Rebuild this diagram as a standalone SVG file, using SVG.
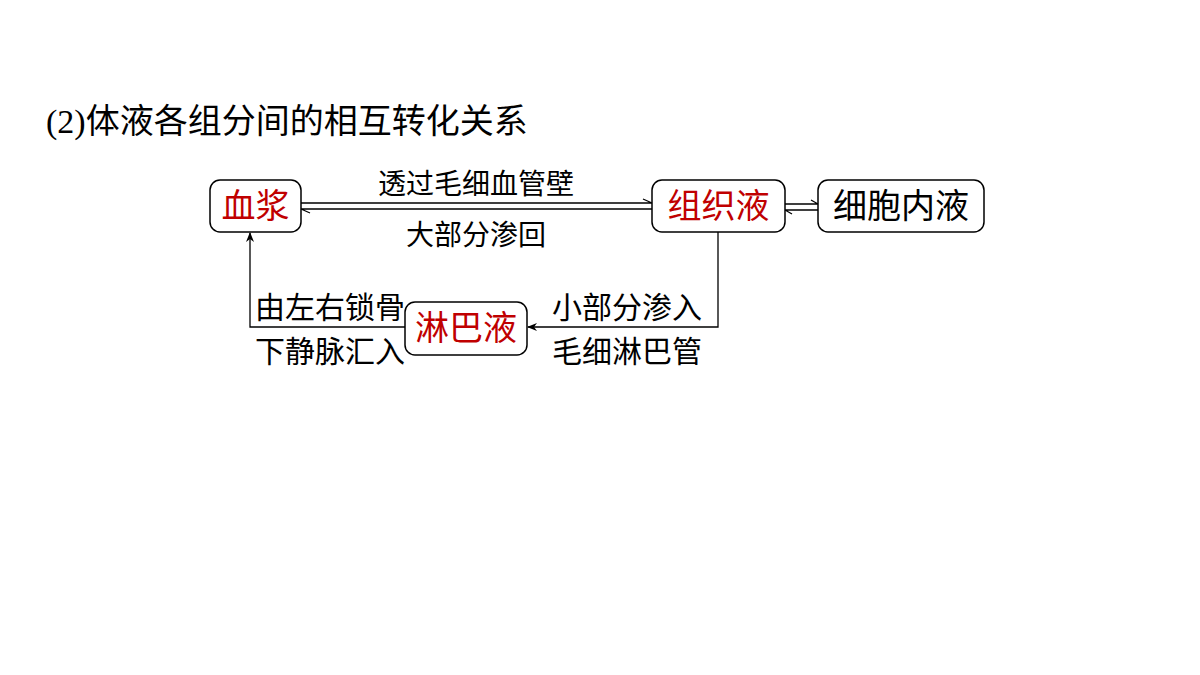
<svg xmlns="http://www.w3.org/2000/svg" width="1200" height="675" viewBox="0 0 1200 675">
<style>
.b{fill:#fff;stroke:#000;stroke-width:1.5}
.t{font-family:"Liberation Serif","Noto Sans CJK SC",serif;font-size:28px}
.r{fill:#c00000}
.l{fill:none;stroke:#000;stroke-width:1.3}
</style>
<defs><marker id="a" markerWidth="10" markerHeight="8" refX="9" refY="4" orient="auto" markerUnits="userSpaceOnUse"><path d="M0,0L10,4L0,8L3,4Z"/></marker></defs>
<rect width="1200" height="675" fill="#fff"/>
<text x="46" y="133" class="t" style="font-size:34px">(2)体液各组分间的相互转化关系</text>
<g id="conn">
<path class="l" d="M301,203H652M643,199L652,203"/>
<path class="l" d="M652,209H301M310,213L301,209"/>
<path class="l" d="M785,204H818M811,200L818,204"/>
<path class="l" d="M818,210H785M792,214L785,210"/>
<path class="l" d="M718,232V327H528" marker-end="url(#a)"/>
<path class="l" d="M405,327H250V233" marker-end="url(#a)"/>
<text class="t" x="476" y="194" text-anchor="middle">透过毛细血管壁</text>
<text class="t" x="476" y="245" text-anchor="middle">大部分渗回</text>
<text class="t" x="627" y="318" text-anchor="middle" style="font-size:30px">小部分渗入</text>
<text class="t" x="627" y="362" text-anchor="middle" style="font-size:30px">毛细淋巴管</text>
<text class="t" x="330" y="318" text-anchor="middle" style="font-size:30px">由左右锁骨</text>
<text class="t" x="330" y="362" text-anchor="middle" style="font-size:30px">下静脉汇入</text>
</g>
<g id="n1"><rect class="b" x="210" y="180" width="91" height="52" rx="10"/><text class="t r" x="255.5" y="218" text-anchor="middle" style="font-size:34px">血浆</text></g>
<g id="n2"><rect class="b" x="652" y="180" width="133" height="52" rx="10"/><text class="t r" x="718.5" y="218" text-anchor="middle" style="font-size:34px">组织液</text></g>
<g id="n3"><rect class="b" x="818" y="180" width="166" height="52" rx="10"/><text class="t" x="901" y="218" text-anchor="middle" style="font-size:34px">细胞内液</text></g>
<g id="n4"><rect class="b" x="405" y="302" width="122" height="53" rx="10"/><text class="t r" x="466" y="340" text-anchor="middle" style="font-size:34px">淋巴液</text></g>
</svg>
